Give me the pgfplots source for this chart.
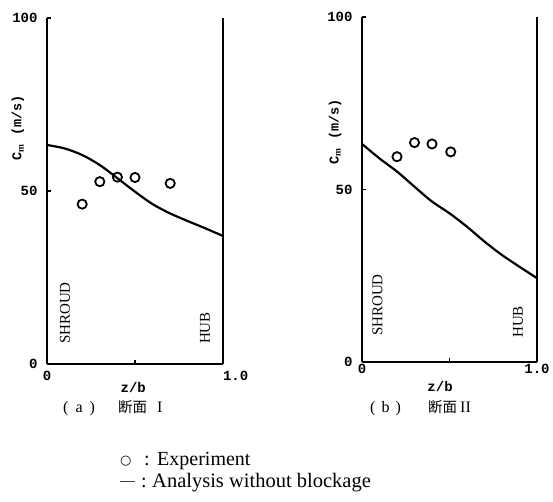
\documentclass[border=0pt]{standalone}
\usepackage{fontspec}
\setmainfont{Liberation Serif}
\newfontfamily\cjk{Noto Sans CJK JP}
\newfontfamily\monof{Liberation Mono}
\newfontfamily\symf{DejaVu Sans}
\usepackage{pgfplots}
\pgfplotsset{compat=1.18}
\pgfplotsset{
  panel/.style={
    anchor=south west, scale only axis,
    xmin=0, xmax=1, ymin=0, ymax=100,
    axis x line*=bottom, axis y line*=box,
    axis line style={line width=1.4pt},
    xtick={0,0.5,1}, ytick={0,50,100},
    ytick pos=left, xtick pos=bottom,
    tick align=inside, major tick length=4pt,
    tick style={line width=1.3pt, black},
    /pgf/number format/assume math mode=true,
    ticklabel style={font=\monof\bfseries\fontsize{14}{16}\selectfont},
    yticklabel style={xshift=-6pt},
    clip=false,
  },
  curve/.style={black, line width=2.2pt, smooth, no marks},
  expt/.style={black, only marks, mark=o, mark size=4.6pt, mark options={line width=1.8pt}},
}
\begin{document}
\begin{tikzpicture}[x=1pt,y=1pt]
\useasboundingbox (0,0) rectangle (553,502);
% panel (a)
\begin{axis}[panel, at={(47pt,138pt)}, width=176pt, height=346pt,
  xticklabels={0,,\makebox[0pt][l]{1.0}},
  xticklabel style={yshift=-4pt}]
\addplot[curve] coordinates {(0,63.3) (0.1,62.3) (0.2,60.4) (0.3,57.5) (0.4,53.7) (0.5,49.8) (0.6,46.2) (0.7,43.5) (0.8,41.3) (0.9,39.2) (1.0,37.0)};
\addplot[expt] coordinates {(0.2,46.2) (0.30,52.7) (0.40,54.0) (0.50,53.9) (0.70,52.2)};
\node[rotate=90, font=\monof\bfseries\fontsize{13.5}{15}\selectfont] at (axis description cs:-0.165,0.682) {C$_{\mathbf{m}}$ (m/s)};
\node[font=\monof\bfseries\fontsize{14}{16}\selectfont] at (axis description cs:0.49,-0.069) {z/b};
\node[rotate=90, font=\fontsize{15}{17}\selectfont] at (axis description cs:0.102,0.147) {SHROUD};
\node[rotate=90, font=\fontsize{15}{17}\selectfont] at (axis description cs:0.898,0.104) {HUB};
\end{axis}
% panel (b)
\begin{axis}[panel, at={(362pt,140pt)}, width=175pt, height=345pt,
  xticklabels={0,,1.0},
  xticklabel style={yshift=1pt}]
\addplot[curve] coordinates {(0,63.2) (0.1,59.0) (0.2,55.2) (0.3,50.8) (0.4,46.5) (0.5,43.1) (0.6,39.2) (0.7,34.9) (0.8,31.0) (0.9,27.6) (1.0,24.3)};
\addplot[expt] coordinates {(0.2,59.5) (0.3,63.6) (0.4,63.2) (0.507,60.9)};
\node[rotate=90, font=\monof\bfseries\fontsize{13.5}{15}\selectfont] at (axis description cs:-0.154,0.667) {C$_{\mathbf{m}}$ (m/s)};
\node[font=\monof\bfseries\fontsize{14}{16}\selectfont] at (axis description cs:0.446,-0.072) {z/b};
\node[rotate=90, font=\fontsize{15}{17}\selectfont] at (axis description cs:0.089,0.165) {SHROUD};
\node[rotate=90, font=\fontsize{15}{17}\selectfont] at (axis description cs:0.891,0.116) {HUB};
\end{axis}
% captions
\node[anchor=base west, inner sep=0pt, font=\fontsize{16}{18}\selectfont] at (63,89) {(\hspace{7pt}a\hspace{7pt})};
\node[anchor=base west, inner sep=0pt, font=\cjk\fontsize{14.5}{16}\selectfont] at (118,89) {断面};
\node[anchor=base west, inner sep=0pt, font=\fontsize{16}{18}\selectfont] at (157,89) {I};
\node[anchor=base west, inner sep=0pt, font=\fontsize{16}{18}\selectfont] at (370,89) {(\hspace{6pt}b\hspace{6pt})};
\node[anchor=base west, inner sep=0pt, font=\cjk\fontsize{14.5}{16}\selectfont] at (428,89) {断面};
\node[anchor=base west, inner sep=0pt, font=\fontsize{16}{18}\selectfont] at (460,89) {II};
% key
\node[anchor=base west, inner sep=0pt, font=\symf\fontsize{13}{15}\selectfont] at (120,37) {○};
\node[anchor=base west, inner sep=0pt, font=\fontsize{20}{22}\selectfont] at (144,36) {:};
\node[anchor=base west, inner sep=0pt, font=\fontsize{20}{22}\selectfont] at (157,36) {Experiment};
\node[anchor=base west, inner sep=0pt, font=\fontsize{15}{17}\selectfont] at (120,16) {—};
\node[anchor=base west, inner sep=0pt, font=\fontsize{20}{22}\selectfont] at (141,14) {:};
\node[anchor=base west, inner sep=0pt, font=\fontsize{20.5}{22}\selectfont] at (152,14) {Analysis without blockage};
\end{tikzpicture}
\end{document}
